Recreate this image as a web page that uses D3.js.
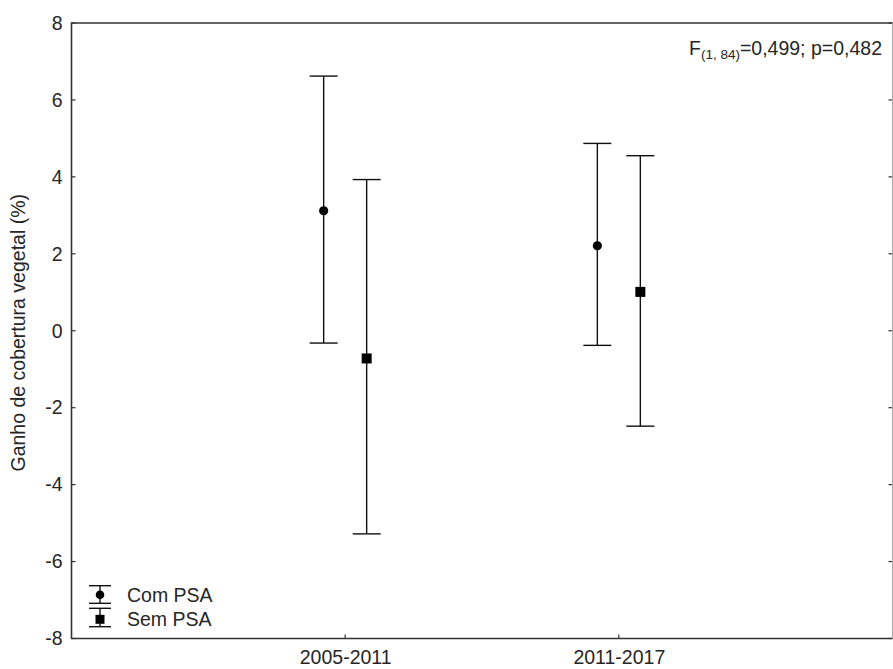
<!DOCTYPE html>
<html>
<head>
<meta charset="utf-8">
<script src="https://cdn.jsdelivr.net/npm/d3@7"></script>
<style>
  body { margin: 0; background: #fff; }
  svg { display: block; }
  text { font-family: "Liberation Sans", Arial, sans-serif; fill: #262626; }
</style>
</head>
<body>
<div id="chart"></div>
<script>
// --- DATA ---
const categories = ['2005-2011', '2011-2017'];
const seriesNames = ['Com PSA', 'Sem PSA'];

const comMean  = [3.12, 2.21];
const comUpper = [6.62, 4.87];
const comLower = [-0.32, -0.38];

const semMean  = [-0.72, 1.01];
const semUpper = [3.93, 4.55];
const semLower = [-5.28, -2.48];

const yTicks = [-8, -6, -4, -2, 0, 2, 4, 6, 8];

// --- LAYOUT ---
const width = 893, height = 669;
const plot = { left: 71.5, right: 892.5, top: 23, bottom: 638.5 };
const fs = 19.5;

const svg = d3.select('#chart').append('svg')
  .attr('width', width)
  .attr('height', height);

const x = d3.scalePoint()
  .domain(categories)
  .range([plot.left, plot.right])
  .padding(1);

const offset = d3.scalePoint()
  .domain(seriesNames)
  .range([-21.5, 21.5]);

const y = d3.scaleLinear()
  .domain([-8, 8])
  .range([plot.bottom, plot.top]);

// build rows for drawing
const rows = [];
categories.forEach((c, i) => {
  rows.push({ cat: c, series: 'Com PSA', mean: comMean[i], lo: comLower[i], hi: comUpper[i] });
  rows.push({ cat: c, series: 'Sem PSA', mean: semMean[i], lo: semLower[i], hi: semUpper[i] });
});

// --- AXES / FRAME ---
svg.append('g')
  .attr('transform', `translate(${plot.left},0)`)
  .call(d3.axisLeft(y).tickValues(yTicks).tickSize(0).tickPadding(9)
    .tickFormat(d => String(d)))
  .call(g => g.select('.domain').remove())
  .selectAll('text')
    .attr('font-size', fs)
    .attr('fill', '#262626');

// inward ticks left & right
svg.append('g').selectAll('line.lt')
  .data(yTicks)
  .enter().append('line')
    .attr('x1', plot.left).attr('x2', plot.left + 4)
    .attr('y1', d => y(d)).attr('y2', d => y(d))
    .attr('stroke', '#333').attr('stroke-width', 1.2);

svg.append('g').selectAll('line.rt')
  .data(yTicks)
  .enter().append('line')
    .attr('x1', plot.right - 4).attr('x2', plot.right)
    .attr('y1', d => y(d)).attr('y2', d => y(d))
    .attr('stroke', '#333').attr('stroke-width', 1.2);

// bottom axis (category ticks, inward)
svg.append('g')
  .attr('transform', `translate(0,${plot.bottom})`)
  .call(d3.axisBottom(x).tickSize(0).tickPadding(12))
  .call(g => g.select('.domain').remove())
  .selectAll('text')
    .attr('font-size', fs)
    .attr('fill', '#262626');

svg.append('g').selectAll('line')
  .data(categories)
  .enter().append('line')
    .attr('x1', d => x(d)).attr('x2', d => x(d))
    .attr('y1', plot.bottom - 4).attr('y2', plot.bottom)
    .attr('stroke', '#333').attr('stroke-width', 1.2);

// frame
svg.append('path')
  .attr('d', `M${plot.right},${plot.top}H${plot.left}V${plot.bottom}H${plot.right}`)
  .attr('fill', 'none')
  .attr('stroke', '#333')
  .attr('stroke-width', 1.6);

svg.append('line')
  .attr('x1', plot.right).attr('x2', plot.right)
  .attr('y1', plot.top).attr('y2', plot.bottom)
  .attr('stroke', '#aaa')
  .attr('stroke-width', 1);

// y label
svg.append('text')
  .attr('transform', `translate(18,${(plot.top + plot.bottom) / 2 + 2}) rotate(-90)`)
  .attr('text-anchor', 'middle')
  .attr('dy', '0.35em')
  .attr('font-size', fs)
  .text('Ganho de cobertura vegetal (%)');

// --- ERROR BARS ---
const capHalf = 14;
const cx = d => x(d.cat) + offset(d.series);

const bars = svg.append('g').selectAll('g.bar')
  .data(rows)
  .enter().append('g').attr('class', 'bar');

bars.append('line')
  .attr('x1', cx).attr('x2', cx)
  .attr('y1', d => y(d.hi)).attr('y2', d => y(d.lo))
  .attr('stroke', '#111').attr('stroke-width', 1.4);

bars.append('line')
  .attr('x1', d => cx(d) - capHalf).attr('x2', d => cx(d) + capHalf)
  .attr('y1', d => y(d.hi)).attr('y2', d => y(d.hi))
  .attr('stroke', '#111').attr('stroke-width', 1.4);

bars.append('line')
  .attr('x1', d => cx(d) - capHalf).attr('x2', d => cx(d) + capHalf)
  .attr('y1', d => y(d.lo)).attr('y2', d => y(d.lo))
  .attr('stroke', '#111').attr('stroke-width', 1.4);

bars.filter(d => d.series === 'Com PSA').append('circle')
  .attr('cx', cx).attr('cy', d => y(d.mean))
  .attr('r', 4.6)
  .attr('fill', '#000');

bars.filter(d => d.series === 'Sem PSA').append('rect')
  .attr('x', d => cx(d) - 5).attr('y', d => y(d.mean) - 5)
  .attr('width', 10).attr('height', 10)
  .attr('fill', '#000');

// --- ANNOTATION ---
const ann = svg.append('text')
  .attr('x', 882).attr('y', 55)
  .attr('text-anchor', 'end')
  .attr('font-size', fs);
ann.append('tspan').text('F');
ann.append('tspan').attr('font-size', 13.5).attr('dy', 4).text('(1, 84)');
ann.append('tspan').attr('dy', -4).text('=0,499; p=0,482');

// --- LEGEND ---
const legend = svg.append('g').attr('transform', 'translate(100,0)');
const legendItems = [
  { name: seriesNames[0], top: 585.7, mid: 594.7, bot: 603.3 },
  { name: seriesNames[1], top: 608.3, mid: 619.3, bot: 626.7 }
];
legendItems.forEach((it, i) => {
  const g = legend.append('g');
  g.append('line').attr('x1', 0).attr('x2', 0).attr('y1', it.top).attr('y2', it.bot)
    .attr('stroke', '#111').attr('stroke-width', 1.4);
  [it.top, it.bot].forEach(v => {
    g.append('line').attr('x1', -11).attr('x2', 11).attr('y1', v).attr('y2', v)
      .attr('stroke', '#111').attr('stroke-width', 1.4);
  });
  if (i === 0) {
    g.append('circle').attr('cx', 0).attr('cy', it.mid).attr('r', 4.3).attr('fill', '#000');
  } else {
    g.append('rect').attr('x', -4.5).attr('y', it.mid - 4.5).attr('width', 9).attr('height', 9).attr('fill', '#000');
  }
  g.append('text')
    .attr('x', 27).attr('y', it.mid).attr('dy', '0.35em')
    .attr('font-size', fs)
    .text(it.name);
});
</script>
</body>
</html>
